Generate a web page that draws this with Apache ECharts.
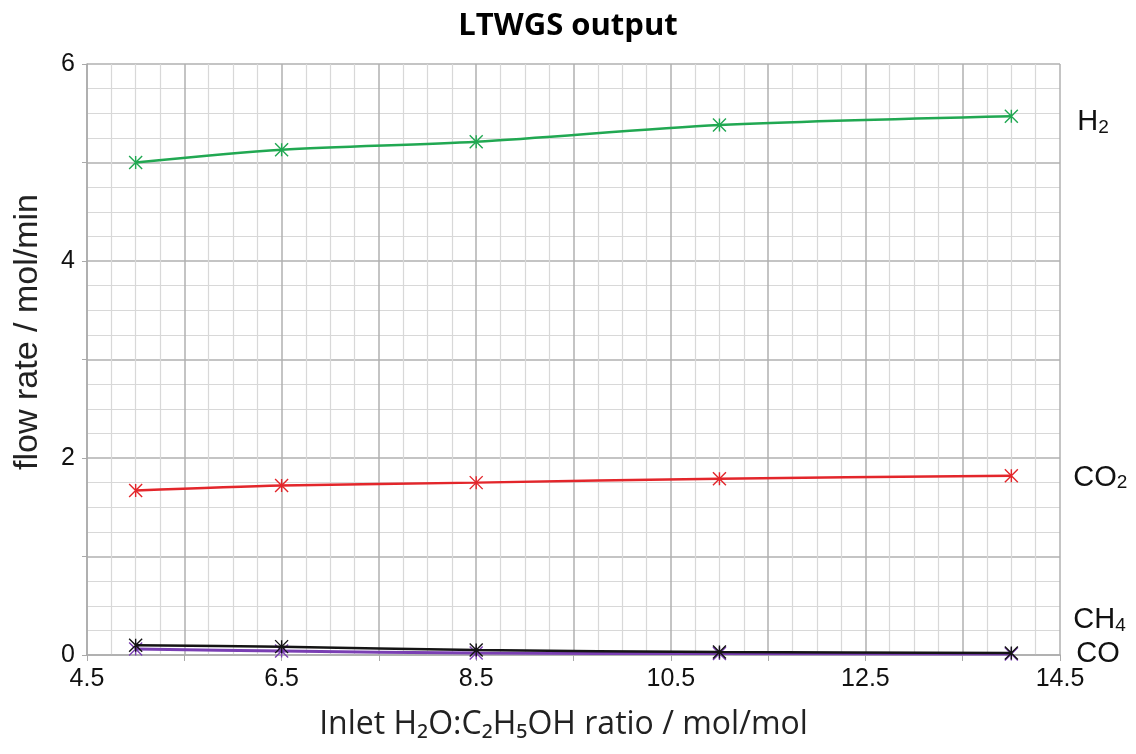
<!DOCTYPE html>
<html>
<head>
<meta charset="utf-8">
<script src="https://cdn.jsdelivr.net/npm/echarts@6/dist/echarts.min.js"></script>
<style>
html,body{margin:0;padding:0;background:#fff;}
#chart{width:1136px;height:754px;}
</style>
</head>
<body>
<div id="chart"></div>
<script>
const ratios = [5, 6.5, 8.5, 11, 14];
const h2 = [5.00, 5.13, 5.21, 5.38, 5.47];
const co2 = [1.67, 1.72, 1.75, 1.79, 1.82];
const ch4 = [0.10, 0.085, 0.05, 0.03, 0.02];
const co = [0.06, 0.04, 0.02, 0.015, 0.01];
const xTickLabels = ['4.5', '6.5', '8.5', '10.5', '12.5', '14.5'];
const yTickLabels = ['0', '2', '4', '6'];

const star = 'path://M0 0 L20 20 M20 0 L0 20 M10 0 L10 20';
const FONT = '"Liberation Sans", Arial, sans-serif';

function pairs(ys) { return ratios.map((x, i) => [x, ys[i]]); }

function mk(name, data, color, label, labelOffset) {
  return {
    name: name,
    type: 'line',
    data: pairs(data),
    smooth: 0.3,
    symbol: star,
    symbolSize: 13,
    showSymbol: true,
    lineStyle: { color: color, width: name === 'CO' ? 3 : 2.5 },
    itemStyle: { color: 'rgba(0,0,0,0)', borderColor: color, borderWidth: 1.4 },
    z: name === 'CH4' ? 4 : 3,
    endLabel: label ? {
      show: true,
      distance: 62,
      offset: labelOffset || [0, 0],
      formatter: label,
      rich: {
        b: { fontSize: 29, color: '#111', fontFamily: FONT },
        s: { fontSize: 19, color: '#111', fontFamily: FONT, verticalAlign: 'bottom', padding: [11, 0, 0, 0] }
      }
    } : { show: false }
  };
}

const chart = echarts.init(document.getElementById('chart'));
chart.setOption({
  animation: false,
  backgroundColor: '#fff',
  title: {
    text: 'LTWGS output',
    left: 'center',
    top: 6,
    textStyle: { fontFamily: '"Open Sans", sans-serif', fontWeight: 'bold', fontSize: 31, color: '#000' }
  },
  grid: { left: 87, right: 76, top: 64, bottom: 99 },
  xAxis: {
    type: 'value',
    min: 4.5, max: 14.5, interval: 1,
    name: 'Inlet H₂O:C₂H₅OH ratio / mol/mol',
    nameLocation: 'middle',
    nameGap: 54,
    nameTextStyle: { fontFamily: '"Open Sans", sans-serif', fontSize: 32, color: '#222', padding: [0, 20, 0, 0] },
    axisLine: { show: true, lineStyle: { color: '#aaa', width: 1.5 } },
    axisTick: { show: true, length: 6, lineStyle: { color: '#aaa' } },
    axisLabel: {
      fontFamily: FONT, fontSize: 25, color: '#111', margin: 12,
      formatter: v => { const s = v.toFixed(1); return xTickLabels.includes(s) ? s : ''; }
    },
    splitLine: { show: true, lineStyle: { color: '#b0b0b0', width: 1.5 } },
    minorTick: { show: false, splitNumber: 4 },
    minorSplitLine: { show: true, lineStyle: { color: '#d8d8d8', width: 1.2 } }
  },
  yAxis: {
    type: 'value',
    min: 0, max: 6, interval: 1,
    name: 'flow rate / mol/min',
    nameLocation: 'middle',
    nameGap: 42,
    nameTextStyle: { fontFamily: FONT, fontSize: 34, color: '#222', padding: [0, 0, 0, 55] },
    axisLine: { show: true, lineStyle: { color: '#aaa', width: 1.5 } },
    axisTick: { show: true, length: 5, lineStyle: { color: '#aaa' } },
    axisLabel: {
      fontFamily: FONT, fontSize: 25, color: '#111', margin: 12,
      formatter: v => { const s = String(v); return yTickLabels.includes(s) ? s : ''; }
    },
    splitLine: { show: true, lineStyle: { color: '#b0b0b0', width: 1.5 } },
    minorTick: { show: false, splitNumber: 4 },
    minorSplitLine: { show: true, lineStyle: { color: '#d8d8d8', width: 1.2 } }
  },
  series: [
    mk('H2', h2, '#21a852', '{b|H}{s|2}', [4, 6]),
    mk('CO2', co2, '#e3262b', '{b|CO}{s|2}', [0, 2]),
    mk('CO', co, '#7a3fb3', '{b|CO}', [3, 0]),
    mk('CH4', ch4, '#141414', '{b|CH}{s|4}', [0, -33])
  ]
});
</script>
</body>
</html>
